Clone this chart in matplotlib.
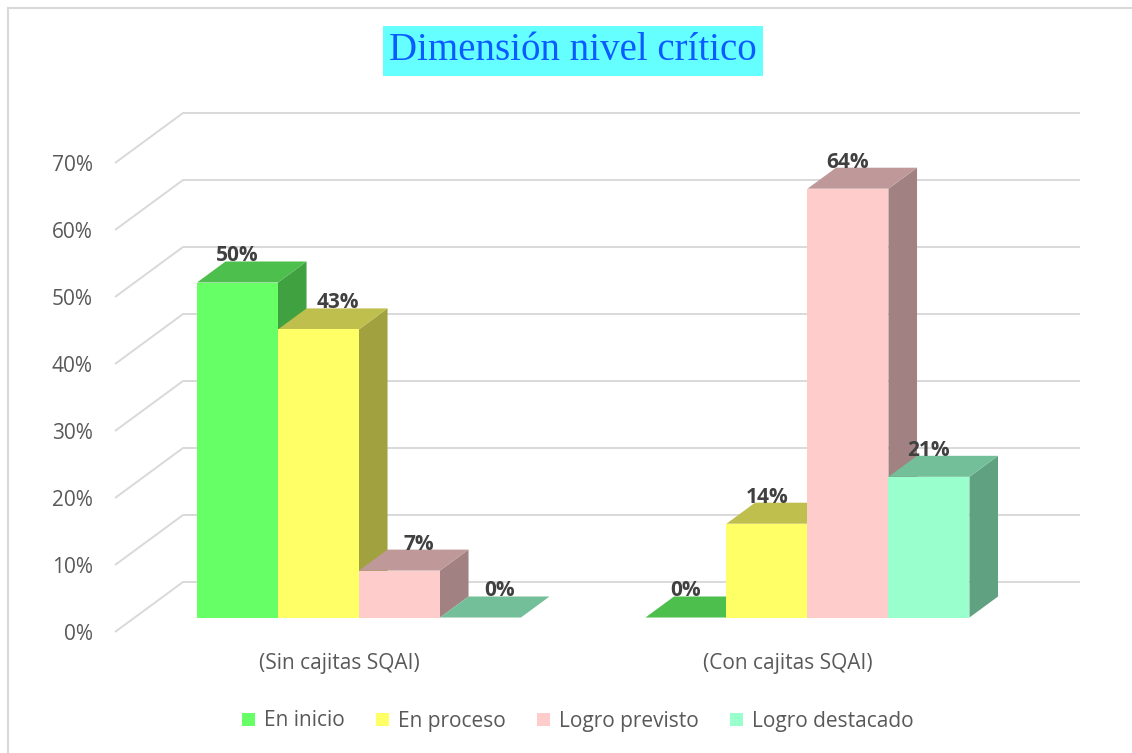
import matplotlib
matplotlib.use("Agg")
import matplotlib.pyplot as plt
from matplotlib.patches import Polygon, Patch
from matplotlib.lines import Line2D
from matplotlib.colors import to_rgb

categories = ["(Sin cajitas SQAI)", "(Con cajitas SQAI)"]
series = ["En inicio", "En proceso", "Logro previsto", "Logro destacado"]
en_inicio = [50, 0]
en_proceso = [43, 14]
logro_previsto = [7, 64]
logro_destacado = [0, 21]
yticks = [0, 10, 20, 30, 40, 50, 60, 70]

values = [en_inicio, en_proceso, logro_previsto, logro_destacado]
colors = ["#66FF66", "#FFFF66", "#FFCCCC", "#99FFCC"]


def shade(c, f):
    r, g, b = to_rgb(c)
    return (r * f, g * f, b * f)


plt.rcParams['font.family'] = ['Open Sans', 'DejaVu Sans']

fig = plt.figure(figsize=(11.32, 7.53), dpi=100)
ax = fig.add_axes([115 / 1132, 121 / 753, 965 / 1132, 519 / 753])

# fake 3d: oblique offset of the floor depth, in data units
DX = 68 / 448.5
DY = 50 / 6.7
WIDTH = 81 / 448.5
GAP = (1 - 4 * WIDTH) / 2
F0, F1 = 0.29, 0.71   # front / back of the bars as fraction of depth
ddx = (F1 - F0) * DX
ddy = (F1 - F0) * DY

ax.set_xlim(-0.5, len(categories) - 0.5 + DX)
ax.set_ylim(0, yticks[-1] + DY)

# gridlines: side wall diagonal + back wall line
for t in yticks:
    ax.plot([-0.5, -0.5 + DX, len(categories) - 0.5 + DX], [t, t + DY, t + DY],
            color='#d9d9d9', lw=1.4, zorder=1, clip_on=False,
            solid_capstyle='butt')

z = 2
for i in range(len(categories)):
    for j, s in enumerate(series):
        v = values[j][i]
        c = colors[j]
        x0 = i - 0.5 + GAP + j * WIDTH + F0 * DX
        y0 = F0 * DY
        side = Polygon([(x0 + WIDTH, y0), (x0 + WIDTH + ddx, y0 + ddy),
                        (x0 + WIDTH + ddx, y0 + v + ddy), (x0 + WIDTH, y0 + v)],
                       closed=True, fc=shade(c, 0.63), ec='none', zorder=z)
        top = Polygon([(x0, y0 + v), (x0 + WIDTH, y0 + v),
                       (x0 + WIDTH + ddx, y0 + v + ddy), (x0 + ddx, y0 + v + ddy)],
                      closed=True, fc=shade(c, 0.75), ec='none', zorder=z + 0.1)
        ax.add_patch(side)
        ax.add_patch(top)
        ax.bar(x0, v, width=WIDTH, bottom=y0, align='edge', color=c,
               lw=0, zorder=z + 0.2)
        # excel nudged the first group's labels (after the first) to the right
        nudge = 14 if (i == 0 and j > 0) else 0
        ax.annotate(f"{v}%", (x0 + WIDTH / 2, y0 + v + ddy), xytext=(nudge, 4),
                    textcoords='offset points', ha='center', va='center',
                    fontsize=15, fontweight='bold', color='#404040', zorder=20)
        z += 1

ax.set_yticks(yticks)
ax.set_yticklabels([f"{t}%" for t in yticks])
ax.set_xticks(range(len(categories)))
ax.set_xticklabels(categories)
ax.tick_params(axis='y', length=0, pad=16, labelsize=15, labelcolor='#595959')
ax.tick_params(axis='x', length=0, pad=15, labelsize=15, labelcolor='#595959')
for sp in ax.spines.values():
    sp.set_visible(False)

fig.text(573 / 1132, 1 - 51 / 753, "Dimensión nivel crítico",
         ha='center', va='center', fontsize=28, color='#0A5CFF',
         family='Liberation Serif',
         bbox=dict(boxstyle='square,pad=0.17', fc='#66FFFF', ec='none'))

handles = [Patch(fc=c, ec='none') for c in colors]
fig.legend(handles, series, loc='center', bbox_to_anchor=(578 / 1132, 1 - 721 / 753),
           ncol=4, frameon=False, fontsize=15, handlelength=0.6,
           handleheight=0.6, handletextpad=0.45, columnspacing=1.5,
           labelcolor='#595959')

# chart border (left and top only)
fig.add_artist(Line2D([8 / 1132, 8 / 1132], [0, 1 - 8 / 753],
                      transform=fig.transFigure, color='#d9d9d9', lw=1.5))
fig.add_artist(Line2D([8 / 1132, 1], [1 - 8 / 753, 1 - 8 / 753],
                      transform=fig.transFigure, color='#d9d9d9', lw=1.5))

fig.savefig('out.png', dpi=100)
